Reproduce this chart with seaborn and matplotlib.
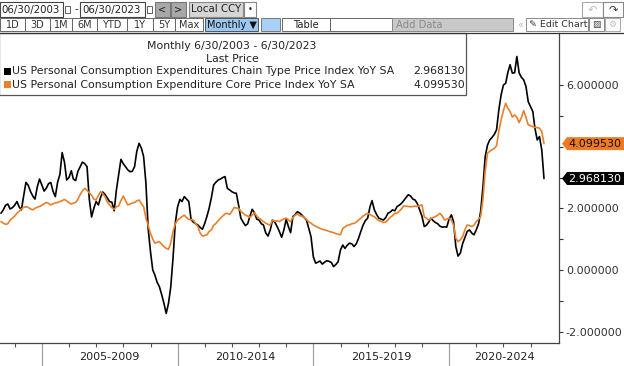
import matplotlib
matplotlib.use("Agg")
import matplotlib.pyplot as plt
import matplotlib.dates as mdates
import matplotlib.transforms as mtransforms
from matplotlib.patches import Rectangle, Polygon
import pandas as pd
import seaborn as sns

# *** data: monthly YoY %, Jun 2003 - Jun 2023 ***
headline_pce = [
    1.84, 1.95, 2.10, 2.14, 1.98, 2.02, 2.10,                                # 2003 Jun-Dec
    2.22, 2.05, 1.95, 2.40, 2.84, 2.75, 2.55, 2.40, 2.30, 2.70, 2.95, 2.75,  # 2004
    2.56, 2.65, 2.80, 2.84, 2.55, 2.38, 2.85, 3.10, 3.81, 3.50, 2.92, 3.00,  # 2005
    3.22, 2.95, 2.90, 3.20, 3.35, 3.50, 3.45, 3.35, 2.30, 1.72, 2.00, 2.22,  # 2006
    2.11, 2.35, 2.53, 2.45, 2.33, 2.22, 2.20, 1.92, 2.60, 3.10, 3.59, 3.45,  # 2007
    3.35, 3.25, 3.19, 3.20, 3.35, 3.85, 4.11, 3.95, 3.68, 2.82, 1.35, 0.60,  # 2008
    0.00, -0.16, -0.40, -0.54, -0.80, -1.08, -1.41, -1.08, -0.55, 0.40, 1.52, 2.05,  # 2009
    2.29, 2.22, 2.38, 2.30, 2.22, 1.64, 1.55, 1.50, 1.46, 1.38, 1.32, 1.51,  # 2010
    1.75, 2.00, 2.35, 2.76, 2.85, 2.92, 2.95, 3.00, 3.03, 2.65, 2.60, 2.54,  # 2011
    2.50, 2.49, 2.10, 1.68, 1.55, 1.44, 1.50, 1.75, 1.97, 1.85, 1.65, 1.62,  # 2012
    1.50, 1.46, 1.20, 1.10, 1.30, 1.62, 1.55, 1.41, 1.25, 1.06, 1.30, 1.64,  # 2013
    1.40, 1.21, 1.73, 1.80, 1.89, 1.85, 1.78, 1.70, 1.62, 1.35, 1.08, 0.43,  # 2014
    0.22, 0.25, 0.29, 0.19, 0.25, 0.30, 0.28, 0.24, 0.11, 0.18, 0.27, 0.65,  # 2015
    0.81, 0.70, 0.80, 0.87, 0.85, 0.76, 0.85, 1.03, 1.25, 1.46, 1.60, 1.68,  # 2016
    2.05, 2.25, 1.95, 1.80, 1.68, 1.65, 1.62, 1.70, 1.84, 1.88, 1.95, 1.92,  # 2017
    2.06, 2.10, 2.16, 2.25, 2.35, 2.44, 2.40, 2.30, 2.27, 2.15, 1.95, 1.75,  # 2018
    1.41, 1.45, 1.55, 1.68, 1.60, 1.54, 1.50, 1.42, 1.39, 1.40, 1.39, 1.65,  # 2019
    1.79, 1.57, 0.76, 0.45, 0.55, 0.85, 1.05, 1.25, 1.30, 1.20, 1.14, 1.30,  # 2020
    1.50, 1.90, 2.70, 3.68, 4.05, 4.22, 4.30, 4.40, 4.55, 5.20, 5.68, 6.00,  # 2021
    6.06, 6.40, 6.66, 6.39, 6.40, 6.93, 6.39, 6.25, 6.17, 5.95, 5.46, 5.30,  # 2022
    5.14, 4.60, 4.22, 4.33, 3.90, 2.968130,                                  # 2023 Jan-Jun
]

core_pce = [
    1.57, 1.52, 1.48, 1.50, 1.62, 1.68, 1.75,
    1.84, 1.90, 1.98, 2.03, 2.05, 2.03, 1.98, 1.95, 2.00, 2.04, 2.06, 2.10,
    2.15, 2.19, 2.16, 2.11, 2.15, 2.17, 2.19, 2.22, 2.25, 2.29, 2.24, 2.18,
    2.14, 2.17, 2.19, 2.30, 2.45, 2.57, 2.65, 2.58, 2.50, 2.43, 2.30, 2.27,
    2.42, 2.54, 2.48, 2.38, 2.20, 2.11, 2.02, 1.97, 2.05, 2.08, 2.25, 2.40,
    2.25, 2.11, 2.14, 2.17, 2.19, 2.24, 2.27, 2.15, 2.05, 1.68, 1.45, 1.19,
    1.00, 0.87, 0.90, 0.92, 0.84, 0.76, 0.70, 0.67, 0.87, 1.25, 1.50, 1.62,
    1.68, 1.73, 1.78, 1.70, 1.64, 1.63, 1.62, 1.50, 1.41, 1.20, 1.10, 1.12,
    1.14, 1.25, 1.30, 1.45, 1.51, 1.60, 1.68, 1.75, 1.82, 1.84, 1.80, 1.90,
    2.03, 2.01, 2.00, 1.90, 1.84, 1.78, 1.75, 1.71, 1.78, 1.86, 1.75, 1.68,
    1.62, 1.57, 1.52, 1.48, 1.46, 1.62, 1.58, 1.60, 1.57, 1.62, 1.66, 1.68,
    1.62, 1.57, 1.70, 1.78, 1.82, 1.76, 1.75, 1.70, 1.64, 1.56, 1.52, 1.46,
    1.42, 1.38, 1.35, 1.32, 1.30, 1.28, 1.25, 1.23, 1.21, 1.18, 1.16, 1.14,
    1.35, 1.40, 1.45, 1.46, 1.50, 1.51, 1.55, 1.62, 1.68, 1.75, 1.80, 1.84,
    1.80, 1.76, 1.73, 1.66, 1.60, 1.58, 1.54, 1.55, 1.62, 1.71, 1.76, 1.84,
    1.84, 1.90, 1.98, 2.08, 2.07, 2.06, 2.05, 2.06, 2.07, 2.06, 2.09, 2.11,
    1.73, 1.68, 1.62, 1.66, 1.70, 1.73, 1.78, 1.84, 1.75, 1.62, 1.65, 1.68,
    1.62, 1.46, 1.03, 0.92, 0.98, 1.08, 1.30, 1.46, 1.44, 1.41, 1.45, 1.57,
    1.65, 1.73, 2.30, 3.20, 3.79, 3.85, 3.90, 3.95, 4.03, 4.50, 4.87, 5.17,
    5.41, 5.25, 5.14, 4.96, 5.03, 4.95, 4.78, 4.95, 5.17, 4.95, 4.71, 4.68,
    4.65, 4.63, 4.62, 4.60, 4.50, 4.099530,
]

dates = pd.date_range(start="2003-06-01", periods=len(headline_pce), freq="MS") + pd.offsets.MonthEnd(0)

headline_name = "US Personal Consumption Expenditures Chain Type Price Index YoY SA"
core_name = "US Personal Consumption Expenditure Core Price Index YoY SA"
black = "#000000"
orange = "#e8802c"

y_ticks = [-2, 0, 2, 4, 6]
y_minor = [-1, 1, 3, 5]
period_starts = [2005, 2010, 2015, 2020]

df = pd.DataFrame({"date": dates, "headline": headline_pce, "core": core_pce})

sns.set_style("white")
plt.rcParams["font.family"] = ["DejaVu Sans"]

fig = plt.figure(figsize=(6.24, 3.66), dpi=100)
W, H = 624, 366
ax = fig.add_axes([0, (H - 343) / H, 559 / W, (343 - 33) / H])

sns.lineplot(data=df, x="date", y="headline", color=black, linewidth=1.2, ax=ax)
sns.lineplot(data=df, x="date", y="core", color=orange, linewidth=1.2, ax=ax)

ax.set_xlim(pd.Timestamp("2003-06-17"), pd.Timestamp("2024-01-18"))
ax.set_ylim(-2.37, 7.69)
ax.set_xlabel("")
ax.set_ylabel("")

# right value axis (the 4.000000 label sits under the orange last-value tag)
ax.yaxis.tick_right()
ax.set_yticks(y_ticks)
ax.set_yticklabels(["" if v == 4 else f"{v:.6f}" for v in y_ticks])
ax.set_yticks(y_minor, minor=True)
ax.tick_params(axis="y", which="both", direction="out", length=3, width=0.8,
               color="#333333", labelsize=8, labelcolor="#333333", pad=2, right=True, left=False)

# yearly ticks below the time axis
ax.set_xticks([pd.Timestamp(f"{y}-01-01") for y in range(2004, 2024)])
ax.set_xticklabels([])
ax.tick_params(axis="x", which="both", direction="out", length=3, width=0.8, color="#555555", bottom=True)

for side in ["top", "left"]:
    ax.spines[side].set_visible(False)
for side in ["right", "bottom"]:
    ax.spines[side].set_color("#444444")
    ax.spines[side].set_linewidth(0.9)

# period band under the axis
trans = mtransforms.blended_transform_factory(ax.transData, ax.transAxes)
right_end = ax.get_xlim()[1]
for i, yr in enumerate(period_starts):
    x0 = mdates.date2num(pd.Timestamp(f"{yr}-01-01"))
    ax.plot([x0, x0], [0, -0.08], transform=trans, clip_on=False, color="#9a9a9a", lw=0.8)
    if i + 1 < len(period_starts):
        x1 = mdates.date2num(pd.Timestamp(f"{period_starts[i + 1]}-01-01"))
    else:
        x1 = right_end
    ax.text((x0 + x1) / 2, -0.045, f"{yr}-{yr + 4}", transform=trans, ha="center", va="center",
            fontsize=8, color="#222222")

# overlay in pixel coordinates for the toolbar, legend box and last-value tags
ov = fig.add_axes([0, 0, 1, 1])
ov.set_xlim(0, W)
ov.set_ylim(H, 0)
ov.axis("off")
ov.patch.set_alpha(0)


def box(x0, y0, x1, y1, fc="white", ec="#444444", lw=0.8):
    ov.add_patch(Rectangle((x0, y0), x1 - x0, y1 - y0, facecolor=fc, edgecolor=ec, linewidth=lw))


def label(x, y, s, ha="left", size=7.2, color="#222222", **kw):
    ov.text(x, y, s, ha=ha, va="center", fontsize=size, color=color, **kw)


# toolbar row 1
box(0, 2, 63, 17)
label(1.5, 9.5, "06/30/2003", size=7.4)
box(64.5, 6, 69.5, 13, lw=0.6)
label(76, 9.5, "-", ha="center", size=7.4)
box(80, 2, 145, 17)
label(82, 9.5, "06/30/2023", size=7.4)
box(147, 6, 152, 13, lw=0.6)
box(155, 2, 170, 17, fc="#a8a8a8", ec="#777777")
label(162.5, 9.5, "<", ha="center", size=7)
box(171, 2, 186, 17, fc="#a8a8a8", ec="#777777")
label(178.5, 9.5, ">", ha="center", size=7)
box(189, 2, 243, 17, fc="#d6d6d6", ec="#888888")
label(191, 9.5, "Local CCY", size=7.4)
box(244, 2, 256, 17, ec="#888888")
label(250, 9.5, "•", ha="center", size=6)
box(582, 2, 603, 17, ec="#aaaaaa")
label(592.5, 9.5, "↶", ha="center", size=8, color="#bbbbbb")
box(603, 2, 623, 17, ec="#888888")
label(613, 9.5, "↷", ha="center", size=8, color="#333333")

# toolbar row 2
edges = [0, 25, 50, 72, 97, 127, 153, 175, 203]
names = ["1D", "3D", "1M", "6M", "YTD", "1Y", "5Y", "Max"]
for a, b, n in zip(edges[:-1], edges[1:], names):
    box(a, 18, b, 31, ec="#666666", lw=0.7)
    label((a + b) / 2, 24.5, n, ha="center", size=7, color="#333333")
box(205, 18, 258, 31, fc="#9cc9f2", ec="#555555", lw=0.7)
label(231.5, 24.5, "Monthly ▼", ha="center", size=7, color="#111111")
box(261, 18, 280, 31, fc="#a9d1f6", ec="#777777", lw=0.7)
box(282, 18, 330, 31, ec="#666666", lw=0.7)
label(306, 24.5, "Table", ha="center")
box(330, 18, 392, 31, ec="#666666", lw=0.7)
box(392, 18, 513, 31, fc="#c9c9c9", ec="#888888", lw=0.7)
label(396, 24.5, "Add Data", color="#8a8a8a")
label(520, 24.5, "«", ha="center", color="#bbbbbb")
box(526, 18, 588, 31, ec="#888888", lw=0.7)
label(529, 24.5, "✎ Edit Chart", size=6.8, color="#333333")
box(589, 18, 604, 31, ec="#888888", lw=0.7)
label(596.5, 24.5, "▨", ha="center", size=6.5, color="#444444")
box(605, 18, 620, 31, ec="#aaaaaa", lw=0.7)
label(612.5, 24.5, "⚙", ha="center", size=6.5, color="#bbbbbb")
ov.plot([0, W], [32.5, 32.5], color="#333333", lw=0.9)

# legend box
box(-1, 33, 466, 95, ec="#555555", lw=0.9)
label(232, 46, "Monthly 6/30/2003 - 6/30/2023", ha="center", size=7.8)
label(232, 58.5, "Last Price", ha="center", size=7.8)
ov.add_patch(Rectangle((4, 68), 7, 7, facecolor=black, edgecolor="none"))
label(12, 71.5, headline_name, size=7.8)
label(465, 71.5, f"{headline_pce[-1]:.6f}", ha="right", size=7.8)
ov.add_patch(Rectangle((4, 81), 7, 7, facecolor=orange, edgecolor="none"))
label(12, 84.5, core_name, size=7.8)
label(465, 84.5, f"{core_pce[-1]:.6f}", ha="right", size=7.8)

# last value tags on the right axis
tag_tr = mtransforms.blended_transform_factory(ov.transData, ax.transData)
for v, fc, tc in [(core_pce[-1], "#f07a22", "#111111"), (headline_pce[-1], "#000000", "#ffffff")]:
    hh = 0.21
    ov.add_patch(Polygon([(562, v), (567, v + hh), (625, v + hh), (625, v - hh), (567, v - hh)],
                         closed=True, facecolor=fc, edgecolor="none", transform=tag_tr, clip_on=False))
    ov.text(568, v, f"{v:.6f}", ha="left", va="center", fontsize=8, color=tc, transform=tag_tr)

fig.savefig("out.png", dpi=100)
